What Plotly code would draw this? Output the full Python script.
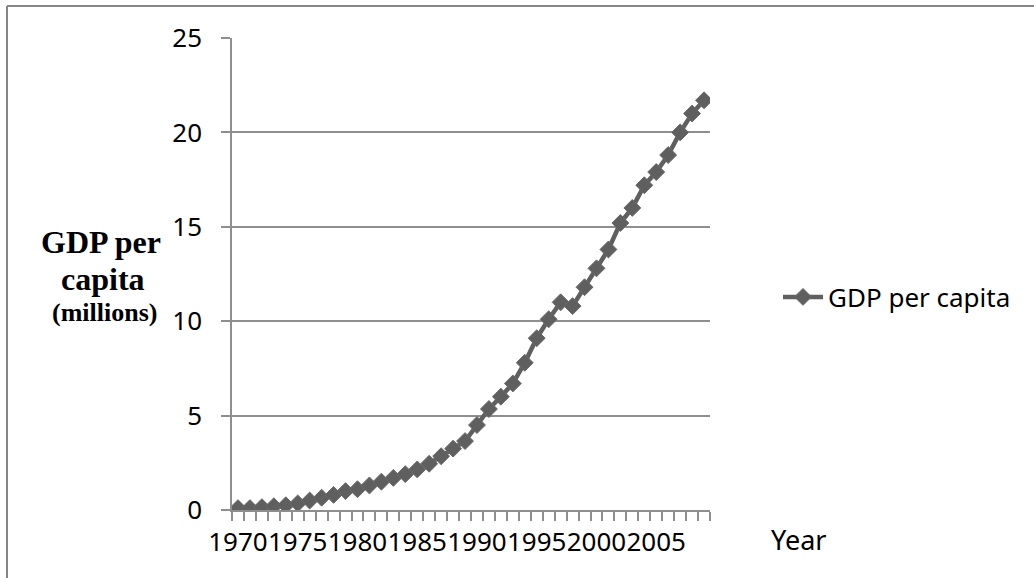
import plotly.graph_objects as go

years = list(range(1970, 2010))
gdp_per_capita = [0.1, 0.1, 0.15, 0.2, 0.25, 0.35, 0.5, 0.65, 0.8, 1.0,
                  1.1, 1.3, 1.5, 1.7, 1.9, 2.15, 2.45, 2.85, 3.25, 3.65,
                  4.5, 5.35, 6.0, 6.7, 7.8, 9.1, 10.1, 11.0, 10.8, 11.8,
                  12.8, 13.8, 15.2, 16.0, 17.2, 17.9, 18.8, 20.0, 21.0, 21.7]
x_tick_years = [1970, 1975, 1980, 1985, 1990, 1995, 2000, 2005]
y_ticks = [0, 5, 10, 15, 20, 25]

W, H = 1034, 578
L, R, T, B = 232, 1034 - 710, 38, 578 - 510
pw, ph = W - L - R, H - T - B

def px(x):
    return (x - L) / pw

def py(y):
    return (H - B - y) / ph

line_color = "#5f5f5f"
grid_color = "#8e8e8e"
font_main = "Noto Sans, Open Sans, sans-serif"
serif = "Liberation Serif, Times New Roman, serif"

fig = go.Figure()
fig.add_trace(go.Scatter(
    x=years, y=gdp_per_capita, mode="lines+markers", name="GDP per capita",
    line=dict(color=line_color, width=4.5),
    marker=dict(symbol="diamond", size=13, color=line_color,
                line=dict(color="#6a6a6a", width=1)),
))

fig.update_layout(
    width=W, height=H,
    margin=dict(l=L, r=R, t=T, b=B, autoexpand=False),
    paper_bgcolor="white", plot_bgcolor="white",
    font=dict(family=font_main, size=26, color="#000000"),
    showlegend=True,
    legend=dict(x=px(778), y=py(297), xanchor="left", yanchor="middle",
                font=dict(size=26, family=font_main), bgcolor="rgba(0,0,0,0)",
                itemwidth=40),
    xaxis=dict(
        range=[1969.5, 2009.5], tickmode="array", tickvals=x_tick_years,
        ticktext=[str(v) for v in x_tick_years], tickangle=0, automargin=False,
        ticks="outside", ticklen=8, tickcolor="rgba(0,0,0,0)",
        showgrid=False, zeroline=False,
        showline=True, linecolor=grid_color, linewidth=1.5,
        tickfont=dict(size=26, family=font_main),
        minor=dict(tick0=1969.5, dtick=1, ticks="outside", ticklen=9,
                   tickcolor=grid_color, tickwidth=1.5, showgrid=False),
    ),
    yaxis=dict(
        range=[0, 25], tickmode="array", tickvals=y_ticks, automargin=False,
        ticks="outside", ticklen=9, tickcolor=grid_color, tickwidth=1.5,
        showgrid=True, gridcolor=grid_color, gridwidth=1.5,
        zeroline=False, showline=True, linecolor=grid_color, linewidth=1.5,
        tickfont=dict(size=26, family=font_main),
        ticklabelstandoff=14,
    ),
    annotations=[
        dict(text="<b>GDP per</b>", x=px(101), y=py(242), xref="paper", yref="paper",
             showarrow=False, xanchor="center", yanchor="middle",
             font=dict(family=serif, size=32)),
        dict(text="<b>capita</b>", x=px(103), y=py(279), xref="paper", yref="paper",
             showarrow=False, xanchor="center", yanchor="middle",
             font=dict(family=serif, size=32)),
        dict(text="<b>(millions)</b>", x=px(104), y=py(312), xref="paper", yref="paper",
             showarrow=False, xanchor="center", yanchor="middle",
             font=dict(family=serif, size=26)),
        dict(text="Year", x=px(769), y=py(539), xref="paper", yref="paper",
             showarrow=False, xanchor="left", yanchor="middle",
             font=dict(family=font_main, size=27)),
    ],
    shapes=[
        dict(type="line", xref="paper", yref="paper", x0=px(7), x1=px(1040),
             y0=py(6), y1=py(6), line=dict(color="#868686", width=2)),
        dict(type="line", xref="paper", yref="paper", x0=px(7), x1=px(7),
             y0=py(6), y1=py(600), line=dict(color="#868686", width=2)),
    ],
)

fig.write_html("out.html")
